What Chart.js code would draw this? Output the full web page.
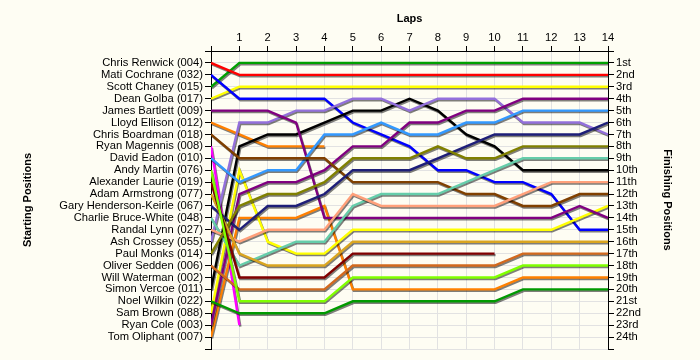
<!DOCTYPE html>
<html>
<head>
<meta charset="utf-8">
<script src="https://cdn.jsdelivr.net/npm/chart.js@4"></script>
<style>
html,body{margin:0;padding:0;background:#FEFDF3;}
#wrap{width:700px;height:360px;}
</style>
</head>
<body>
<div id="wrap"><canvas id="c" width="700" height="360"></canvas></div>
<script>
// ---- data ----
const startingNames = [
  "Chris Renwick (004)", "Mati Cochrane (032)", "Scott Chaney (015)", "Dean Golba (017)",
  "James Bartlett (009)", "Lloyd Ellison (012)", "Chris Boardman (018)", "Ryan Magennis (008)",
  "David Eadon (010)", "Andy Martin (076)", "Alexander Laurie (019)", "Adam Armstrong (077)",
  "Gary Henderson-Keirle (067)", "Charlie Bruce-White (048)", "Randal Lynn (027)", "Ash Crossey (055)",
  "Paul Monks (014)", "Oliver Sedden (006)", "Will Waterman (002)", "Simon Vercoe (011)",
  "Noel Wilkin (022)", "Sam Brown (088)", "Ryan Cole (003)", "Tom Oliphant (007)"
];
const finishingLabels = [
  "1st","2nd","3rd","4th","5th","6th","7th","8th","9th","10th","11th","12th",
  "13th","14th","15th","16th","17th","18th","19th","20th","21st","22nd","23rd","24th"
];
const lapTicks = [1,2,3,4,5,6,7,8,9,10,11,12,13,14];

// position at lap 0 (start), lap 1 ... lap 14
const renwick   = [1,2,2,2,2,2,2,2,2,2,2,2,2,2,2];
const cochrane  = [2,4,4,4,4,6,7,8,10,10,11,11,12,15,15];
const chaney    = [3,1,1,1,1,1,1,1,1,1,1,1,1,1,1];
const golba     = [4,3,3,3,3,3,3,3,3,3,3,3,3,3,3];
const bartlett  = [5,5,5,6,14,14,14,14,14,14,14,14,14,13,14];
const ellison   = [6,7,8,8,8];
const boardman  = [7,9,9,9,9,11,11,11,11,12,12,13,13,12,12];
const magennis  = [8,23];
const eadon     = [9,11,10,10,7,7,6,7,7,6,6,5,5,5,5];
const martin    = [10,21,21,21,21,19,19,19,19,19,19,18,18,18,18];
const laurie    = [11,19,19,19,19,17,17,17,17,17,17];
const armstrong = [12,17,18,18,18,16,16,16,16,16,16,16,16,16,16];
const henderson = [13,15,13,13,12,10,10,10,9,8,7,7,7,7,6];
const bruce     = [14,18,17,16,16,13,12,12,12,11,10,9,9,9,9];
const lynn      = [15,16,15,15,15,12,13,13,13,13,13,12,11,11,11];
const crossey   = [16,6,6,5,5,4,4,5,4,4,4,6,6,6,7];
const monks     = [17,13,12,12,11,9,9,9,8,9,9,8,8,8,8];
const sedden    = [18,20,20,20,20,18,18,18,18,18,18,17,17,17,17];
const vercoe    = [20,8,7,7,6,5,5,4,5,7,8,10,10,10,10];
const wilkin    = [21,22,22,22,22,21,21,21,21,21,21,20,20,20,20];
const brown     = [22,10,16,17,17,15,15,15,15,15,15,15,15,14,13];
const cole      = [23,12,11,11,10,8,8,6,6,5,5,4,4,4,4];
const oliphant  = [24,14,14,14,13,20,20,20,20,20,20,19,19,19,19];

const seriesList = [
  [startingNames[9],  martin,    '#80FF00'],
  [startingNames[10], laurie,    '#800000'],
  [startingNames[11], armstrong, '#DAA520'],
  [startingNames[16], monks,     '#808000'],
  [startingNames[17], sedden,    '#D2691E'],
  [startingNames[20], wilkin,    '#009A00'],
  [startingNames[14], lynn,      '#FFA07A'],
  [startingNames[13], bruce,     '#66CDAA'],
  [startingNames[12], henderson, '#1E1E78'],
  [startingNames[6],  boardman,  '#804000'],
  [startingNames[8],  eadon,     '#3399FF'],
  [startingNames[4],  bartlett,  '#800080'],
  [startingNames[22], cole,      '#800080'],
  [startingNames[15], crossey,   '#9370DB'],
  [startingNames[19], vercoe,    '#000000'],
  [startingNames[21], brown,     '#FFFF00'],
  [startingNames[23], oliphant,  '#FF8000'],
  [startingNames[5],  ellison,   '#FF8000'],
  [startingNames[7],  magennis,  '#FF00FF'],
  [startingNames[1],  cochrane,  '#0000FF'],
  [startingNames[3],  golba,     '#FFFF00'],
  [startingNames[0],  renwick,   '#FF0000'],
  [startingNames[2],  chaney,    '#00A000']
];

const datasets = seriesList.map(([label, arr, color]) => ({
  label,
  data: arr.map((p, i) => ({x: i, y: p})),
  borderColor: color,
  backgroundColor: color,
  borderWidth: 2.4,
  pointRadius: 0,
  tension: 0,
  fill: false,
  yAxisID: 'y'
}));

const bgPlugin = {
  id: 'bg',
  beforeDraw(chart) {
    const ctx = chart.ctx;
    ctx.save();
    ctx.fillStyle = '#FEFDF3';
    ctx.fillRect(0, 0, chart.width, chart.height);
    ctx.restore();
  }
};
const shadowPlugin = {
  id: 'shadow',
  beforeDatasetsDraw(chart) {
    const ctx = chart.ctx;
    ctx.save();
    ctx.shadowColor = 'rgba(0,0,0,0.5)';
    ctx.shadowOffsetX = 1;
    ctx.shadowOffsetY = 1.5;
    ctx.shadowBlur = 0.5;
  },
  afterDatasetsDraw(chart) {
    chart.ctx.restore();
  }
};

const tickFont = {family: '"Liberation Sans", Arial, sans-serif', size: 11.2};
const titleFont = {family: '"Liberation Sans", Arial, sans-serif', size: 11, weight: 'bold'};

new Chart(document.getElementById('c'), {
  type: 'line',
  data: {datasets},
  plugins: [bgPlugin, shadowPlugin],
  options: {
    responsive: false,
    animation: false,
    layout: {padding: {left: 17, right: 22, top: 8, bottom: 11}},
    plugins: {legend: {display: false}, tooltip: {enabled: false}},
    scales: {
      x: {
        type: 'linear', position: 'top', min: 0, max: 14,
        afterFit(s) { s.height = 43; },
        border: {display: true, color: '#000', width: 1},
        grid: {color: '#E2E2E2', tickColor: '#000', tickLength: 5, lineWidth: 1},
        ticks: {stepSize: 1, autoSkip: false, maxRotation: 0, color: '#000', font: tickFont, padding: 1,
          callback: v => lapTicks.includes(v) ? String(v) : ''},
        title: {display: true, text: 'Laps', color: '#000', font: titleFont, padding: {top: 4, bottom: 4}}
      },
      y: {
        type: 'linear', position: 'left', min: 0, max: 25, reverse: true,
        afterFit(s) { s.width = 194; },
        border: {display: true, color: '#000', width: 1},
        grid: {color: '#E2E2E2', tickColor: '#000', tickLength: 6, lineWidth: 1},
        ticks: {stepSize: 1, autoSkip: false, color: '#000', font: tickFont, padding: 2,
          callback: v => startingNames[v - 1] || ''},
        title: {display: true, text: 'Starting Positions', color: '#000', font: titleFont, padding: {top: 4, bottom: 4}}
      },
      y2: {
        type: 'linear', position: 'right', min: 0, max: 25, reverse: true,
        afterFit(s) { s.width = 70; },
        border: {display: true, color: '#000', width: 1},
        grid: {drawOnChartArea: false, tickColor: '#000', tickLength: 6},
        ticks: {stepSize: 1, autoSkip: false, color: '#000', font: tickFont, padding: 2,
          callback: v => finishingLabels[v - 1] || ''},
        title: {display: true, text: 'Finishing Positions', color: '#000', font: titleFont, padding: {top: 4, bottom: 4}}
      }
    }
  }
});
</script>
</body>
</html>
